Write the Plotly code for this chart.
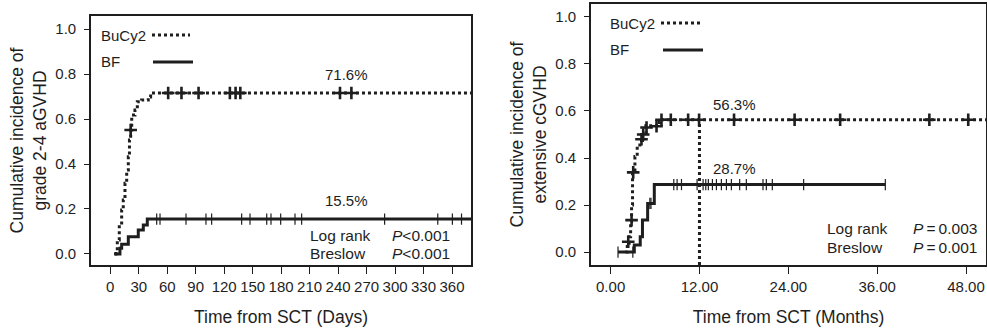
import plotly.graph_objects as go

# ---------------- data: left panel (aGVHD, days) ----------------
a_bucy_t = [5, 6, 7.4, 9.5, 12, 13.7, 15.5, 17.3, 19, 20.2, 21.5, 22.6, 26, 28.5, 33, 40, 42.5, 380]
a_bucy_v = [0, 0.01, 0.062, 0.129, 0.196, 0.24, 0.314, 0.373, 0.432, 0.507, 0.551, 0.618, 0.64, 0.677, 0.684, 0.698, 0.716, 0.716]
a_bucy_cens_t = [21.5, 61, 75, 93, 126, 132, 137, 242, 254]
a_bucy_cens_v = [0.551, 0.716, 0.716, 0.716, 0.716, 0.716, 0.716, 0.716, 0.716]

a_bf_t = [4, 10.2, 12, 19, 29.5, 34.8, 39, 380]
a_bf_v = [0, 0.025, 0.043, 0.077, 0.107, 0.129, 0.155, 0.155]
a_bf_cens_t = [48.9, 52.4, 79.8, 100.8, 106.8, 138.4, 147.2, 164.8, 169.3, 179.5, 194.6, 201.6, 289, 345, 360.4, 370]
a_bf_cens_v = [0.155] * len(a_bf_cens_t)

a_xticks = [0, 30, 60, 90, 120, 150, 180, 210, 240, 270, 300, 330, 360]
a_yticks = [0.0, 0.2, 0.4, 0.6, 0.8, 1.0]

# ---------------- data: right panel (cGVHD, months) ----------------
c_bucy_t = [2.0, 2.25, 2.5, 2.7, 2.83, 2.96, 3.28, 3.59, 3.95, 4.31, 4.76, 6.2, 6.65, 50.7]
c_bucy_v = [0, 0.037, 0.065, 0.129, 0.2, 0.342, 0.406, 0.441, 0.474, 0.505, 0.537, 0.551, 0.563, 0.563]
c_bucy_cens_t = [2.38, 2.83, 3.05, 4.17, 4.4, 4.85, 6.2, 6.87, 8.13, 10.47, 11.95, 16.67, 24.85, 31.0, 43.05, 48.3]
c_bucy_cens_v = [0.044, 0.136, 0.339, 0.48, 0.5, 0.53, 0.535, 0.563, 0.563, 0.563, 0.563, 0.563, 0.563, 0.563, 0.563, 0.563]

c_bf_t = [1.0, 3.2, 4.0, 4.3, 5.0, 5.9, 37.1]
c_bf_v = [0, 0.03, 0.065, 0.136, 0.207, 0.287, 0.287]
c_bf_cens_t = [1.0, 3.0, 5.3, 5.45, 8.53, 8.98, 9.57, 11.68, 12.49, 12.85, 13.2, 13.75, 14.29, 14.96,
               15.64, 16.31, 17.43, 18.33, 20.58, 21.03, 21.84, 26.07, 37.1]
c_bf_cens_v = [0, 0, 0.207, 0.207] + [0.287] * 19

c_median_t = [12, 12]
c_median_v = [-0.055, 0.563]

c_xticks = [0, 12, 24, 36, 48]
c_yticks = [0.0, 0.2, 0.4, 0.6, 0.8, 1.0]

INK = "#1e1e1e"
FONT = "Liberation Sans, Arial, sans-serif"

fig = go.Figure()

def add_panel(xa, ya, bt, bv, bct, bcv, ft, fv, fct, fcv):
    fig.add_trace(go.Scatter(x=bt, y=bv, mode="lines", line=dict(color=INK, width=3, dash="dot", shape="hv"),
                             xaxis=xa, yaxis=ya, showlegend=False, name="BuCy2"))
    fig.add_trace(go.Scatter(x=ft, y=fv, mode="lines", line=dict(color=INK, width=3, shape="hv"),
                             xaxis=xa, yaxis=ya, showlegend=False, name="BF"))
    fig.add_trace(go.Scatter(x=bct, y=bcv, mode="markers",
                             marker=dict(symbol="cross-thin", size=9, line=dict(color=INK, width=2.6)),
                             xaxis=xa, yaxis=ya, showlegend=False))
    fig.add_trace(go.Scatter(x=fct, y=fcv, mode="markers",
                             marker=dict(symbol="line-ns", size=8, line=dict(color=INK, width=1.2)),
                             xaxis=xa, yaxis=ya, showlegend=False))

add_panel("x", "y", a_bucy_t, a_bucy_v, a_bucy_cens_t, a_bucy_cens_v, a_bf_t, a_bf_v, a_bf_cens_t, a_bf_cens_v)
add_panel("x2", "y2", c_bucy_t, c_bucy_v, c_bucy_cens_t, c_bucy_cens_v, c_bf_t, c_bf_v, c_bf_cens_t, c_bf_cens_v)
fig.add_trace(go.Scatter(x=c_median_t, y=c_median_v, mode="lines",
                         line=dict(color=INK, width=3, dash="dot"), xaxis="x2", yaxis="y2", showlegend=False))

W, H = 987, 329
def px(x): return x / W
def py(y): return 1 - y / H

axis_common = dict(showline=True, linecolor=INK, linewidth=1.6, mirror=True, ticks="outside",
                   tickcolor=INK, tickwidth=1.3, showgrid=False, zeroline=False, tickangle=0,
                   tickfont=dict(family=FONT, size=15, color=INK))

fig.update_layout(
    width=W, height=H, margin=dict(l=0, r=0, t=0, b=0),
    paper_bgcolor="white", plot_bgcolor="white",
    font=dict(family=FONT, color=INK),
    xaxis=dict(domain=[px(91), px(471)], range=[-20.3, 380], tickvals=a_xticks, ticklen=7,
               title=dict(text="Time from SCT (Days)", font=dict(size=17.5), standoff=17), **axis_common),
    yaxis=dict(domain=[py(265), py(16)], range=[-0.049, 1.058], tickvals=a_yticks, tickformat=".1f", ticklen=5,
               ticklabelstandoff=5,
               title=dict(text="Cumulative incidence of<br>grade 2-4 aGVHD", font=dict(size=17.5), standoff=4),
               anchor="x", **axis_common),
    xaxis2=dict(domain=[px(591), px(986)], range=[-2.65, 50.7], tickvals=c_xticks, tickformat=".2f", ticklen=7,
                title=dict(text="Time from SCT (Months)", font=dict(size=17.5), standoff=17), anchor="y2",
                **axis_common),
    yaxis2=dict(domain=[py(265), py(4)], range=[-0.055, 1.055], tickvals=c_yticks, tickformat=".1f", ticklen=5,
                ticklabelstandoff=5,
                title=dict(text="Cumulative incidence of<br>extensive cGVHD", font=dict(size=17.5), standoff=4),
                anchor="x2", **axis_common),
)

# legend samples (text + line sample) drawn manually
shapes = [
    dict(type="line", xref="paper", yref="paper", x0=px(152), x1=px(190), y0=py(35), y1=py(35),
         line=dict(color=INK, width=3, dash="dot")),
    dict(type="line", xref="paper", yref="paper", x0=px(153), x1=px(193), y0=py(62), y1=py(62),
         line=dict(color=INK, width=3)),
    dict(type="line", xref="paper", yref="paper", x0=px(661), x1=px(700), y0=py(23), y1=py(23),
         line=dict(color=INK, width=3, dash="dot")),
    dict(type="line", xref="paper", yref="paper", x0=px(663), x1=px(703), y0=py(50), y1=py(50),
         line=dict(color=INK, width=3)),
]
fig.update_layout(shapes=shapes)

def ann(text, x, y, xref="paper", yref="paper", xanchor="left", size=15.5):
    fig.add_annotation(text=text, x=x, y=y, xref=xref, yref=yref, xanchor=xanchor, yanchor="middle",
                       showarrow=False, font=dict(family=FONT, size=size, color=INK))

ann("BuCy2", px(99), py(35), size=15)
ann("BF", px(99), py(62), size=15)
ann("BuCy2", px(608), py(23), size=15)
ann("BF", px(608), py(50), size=15)

ann("71.6%", 249, 0.796, "x", "y", "center", size=15)
ann("15.5%", 249, 0.236, "x", "y", "center", size=15)
ann("Log rank", 208, 0.084, "x", "y")
ann("Breslow", 208, 0.0, "x", "y")
ann("<i>P</i>&lt;0.001", 294.6, 0.084, "x", "y")
ann("<i>P</i>&lt;0.001", 294.6, 0.0, "x", "y")

ann("56.3%", 16.75, 0.626, "x2", "y2", "center", size=15)
ann("28.7%", 16.75, 0.357, "x2", "y2", "center", size=15)
ann("Log rank", 28.9, 0.102, "x2", "y2")
ann("Breslow", 28.9, 0.021, "x2", "y2")
ann("<i>P</i>\u2009=\u20090.003", 40.6, 0.102, "x2", "y2")
ann("<i>P</i>\u2009=\u20090.001", 40.6, 0.021, "x2", "y2")

fig.write_html("out.html", config={"displayModeBar": False},
               post_script="document.body.style.margin='0';")
